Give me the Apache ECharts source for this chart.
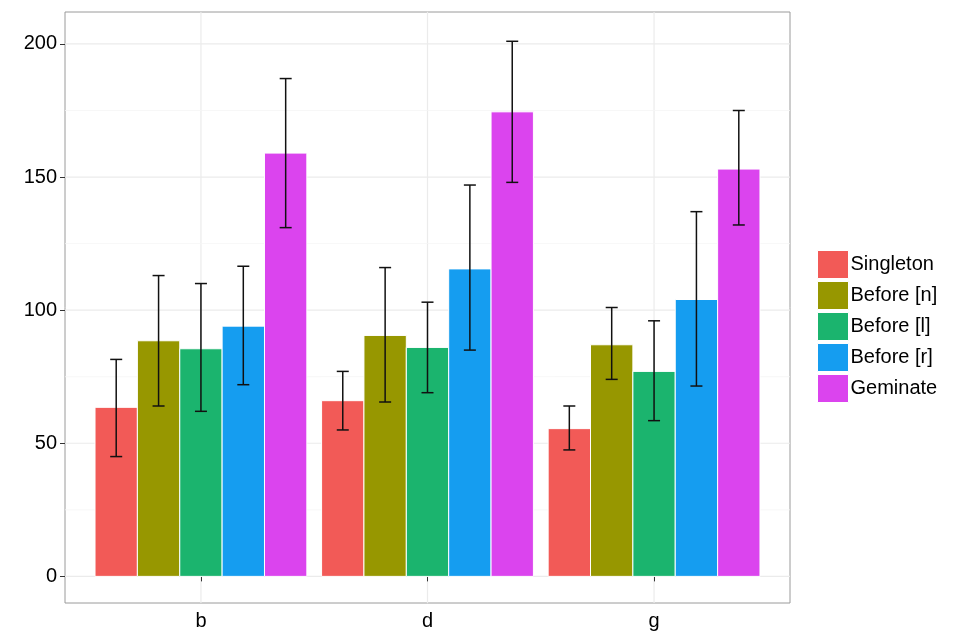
<!DOCTYPE html>
<html>
<head>
<meta charset="UTF-8">
<script src="https://cdn.jsdelivr.net/npm/echarts@6/dist/echarts.min.js"></script>
<style>html,body{margin:0}#c{width:956px;height:639px}</style>
</head>
<body>
<div id="c"></div>
<script>
var categories = ['b', 'd', 'g'];
var groups = ['Singleton', 'Before [n]', 'Before [l]', 'Before [r]', 'Geminate'];
var colors = ['#F25A57', '#979700', '#1BB46E', '#159DF0', '#DB44EE'];
var means = [[63.5, 66, 55.5], [88.5, 90.5, 87], [85.5, 86, 77], [94, 115.5, 104], [159, 174.5, 153]];
var lows = [[45, 55, 47.5], [64, 65.5, 74], [62, 69, 58.5], [72, 85, 71.5], [131, 148, 132]];
var highs = [[81.5, 77, 64], [113, 116, 101], [110, 103, 96], [116.5, 147, 137], [187, 201, 175]];
var majorTicks = [0, 50, 100, 150, 200];
var minorTicks = [25, 75, 125, 175];

var chart = echarts.init(document.getElementById('c'));
var font = 'Liberation Sans';
var dodge = 0.935, bw = dodge / groups.length;

var gridData = majorTicks.map(function (v) { return [v, 1]; })
  .concat(minorTicks.map(function (v) { return [v, 0]; }));
var vLines = [1, 2, 3];

var series = [{
  type: 'custom', silent: true, z: 0,
  data: gridData,
  renderItem: function (p, api) {
    var v = api.value(0), major = api.value(1);
    var a = api.coord([0.4, v]), b = api.coord([3.6, v]);
    var items = [{ type: 'line', shape: { x1: a[0], y1: a[1], x2: b[0], y2: b[1] },
      style: { stroke: major ? '#ebebeb' : '#f5f5f5', lineWidth: major ? 1.2 : 0.8 } }];
    if (p.dataIndex === 0) {
      vLines.forEach(function (x) {
        var t = api.coord([x, 212]), s = api.coord([x, -10]);
        items.push({ type: 'line', shape: { x1: t[0], y1: t[1], x2: s[0], y2: s[1] },
          style: { stroke: '#ebebeb', lineWidth: 1.2 } });
      });
    }
    return { type: 'group', children: items };
  }
}];

groups.forEach(function (g, gi) {
  series.push({
    name: g, type: 'custom', z: 2,
    itemStyle: { color: colors[gi] },
    data: categories.map(function (c, ci) { return [ci + 1, means[gi][ci], lows[gi][ci], highs[gi][ci]]; }),
    renderItem: function (p, api) {
      var xc = api.value(0) - dodge / 2 + bw * (gi + 0.5);
      var tl = api.coord([xc - bw / 2, api.value(1)]);
      var br = api.coord([xc + bw / 2, 0]);
      var lo = api.coord([xc, api.value(2)]), hi = api.coord([xc, api.value(3)]);
      var cap = 6;
      var ls = { stroke: '#111', lineWidth: 1.5 };
      return { type: 'group', children: [
        { type: 'rect', shape: { x: tl[0], y: tl[1], width: br[0] - tl[0], height: br[1] - tl[1] },
          style: { fill: colors[gi], stroke: '#fff', lineWidth: 1 } },
        { type: 'line', shape: { x1: lo[0], y1: lo[1], x2: hi[0], y2: hi[1] }, style: ls },
        { type: 'line', shape: { x1: lo[0] - cap, y1: lo[1], x2: lo[0] + cap, y2: lo[1] }, style: ls },
        { type: 'line', shape: { x1: hi[0] - cap, y1: hi[1], x2: hi[0] + cap, y2: hi[1] }, style: ls }
      ] };
    }
  });
});

chart.setOption({
  animation: false,
  textStyle: { fontFamily: font },
  grid: { left: 65, right: 166, top: 12, bottom: 36, show: true, borderColor: '#9a9a9a', borderWidth: 1 },
  legend: {
    orient: 'vertical', left: 812, top: 245, icon: 'rect',
    itemWidth: 31, itemHeight: 28, itemGap: 2,
    data: groups,
    itemStyle: { borderColor: '#fff', borderWidth: 1 },
    textStyle: { fontSize: 20, color: '#000', fontFamily: font, padding: [0, 0, 0, -3] }
  },
  xAxis: {
    type: 'value', min: 0.4, max: 3.6,
    axisLine: { show: false }, splitLine: { show: false },
    axisTick: { show: true, customValues: [1, 2, 3], length: 5, lineStyle: { color: '#333' } },
    axisLabel: { customValues: [1, 2, 3], fontSize: 20, color: '#000', margin: 8,
      formatter: function (v) { return categories[Math.round(v) - 1]; } }
  },
  yAxis: {
    type: 'value', min: -10, max: 212,
    axisLine: { show: false }, splitLine: { show: false },
    axisTick: { show: true, customValues: majorTicks, length: 5, lineStyle: { color: '#333' } },
    axisLabel: { customValues: majorTicks, fontSize: 20, color: '#000', margin: 8 }
  },
  series: series
});
</script>
</body>
</html>
